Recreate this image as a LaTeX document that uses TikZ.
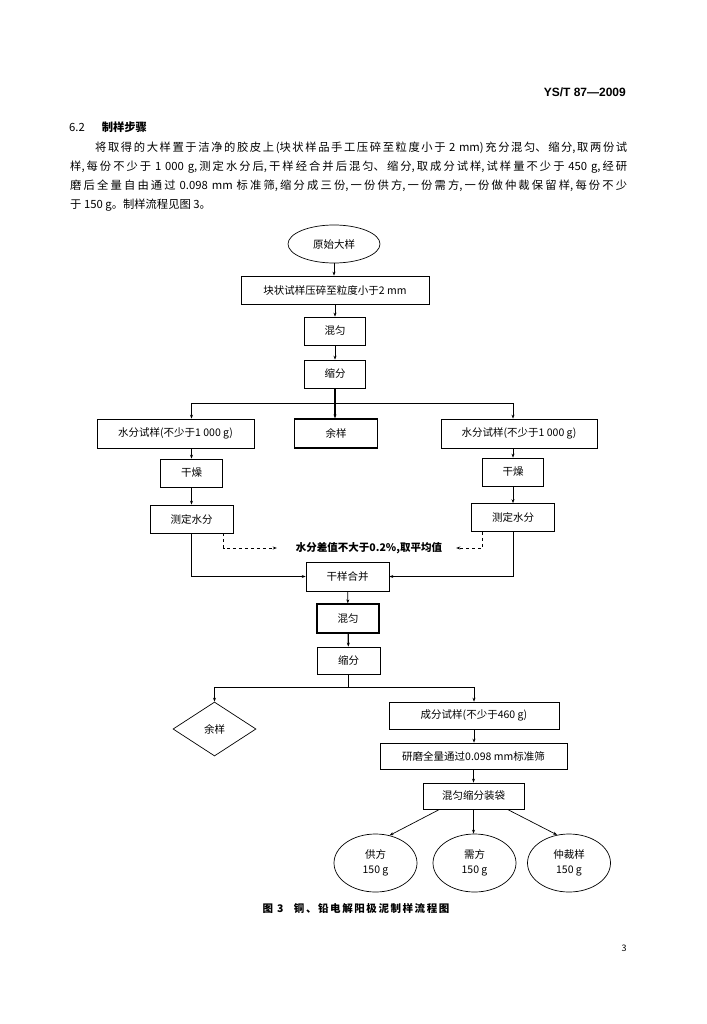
\documentclass[tikz,border=0pt]{standalone}
\usepackage{fontspec}
\setmainfont{Noto Sans CJK SC}
\newfontfamily\hdfont{Liberation Sans}
\newfontfamily\capfont[LetterSpace=15]{Noto Sans CJK SC}
\usetikzlibrary{shapes.geometric,arrows.meta}

\begin{document}
\begin{tikzpicture}[x=1pt,y=-1pt,
	box/.style={draw,line width=0.7pt,inner sep=1pt,minimum height=28pt,font=\fontsize{10.5}{12}\selectfont},
	boldbox/.style={box,line width=1.3pt},
	oval/.style={draw,ellipse,line width=0.7pt,inner sep=0pt,align=center,font=\fontsize{10.5}{15}\selectfont},
	flow/.style={line width=0.7pt,-{Stealth[length=4pt,width=3pt]}},
	link/.style={line width=0.7pt}]
	\fill[white] (0,0) rectangle (706,1024);
	\useasboundingbox (0,0) rectangle (706,1024);
	\node[anchor=base east,inner sep=0,font=\hdfont\bfseries\fontsize{12}{14}\selectfont] (code) at (626,97) {YS/T 87—2009};
	\node[anchor=base west,inner sep=0,font=\fontsize{11.3}{14}\selectfont] (sec) at (69,132) {6.2\hspace{1.5em}\textbf{制样步骤}};
	\node[anchor=base west,inner sep=0,text width=557pt,align=justify,font=\fontsize{11.3}{18.8}\selectfont] (para) at (70,152) {\XeTeXlinebreaklocale "zh"\XeTeXlinebreakskip=0pt plus 2pt\hspace*{25pt}将取得的大样置于洁净的胶皮上(块状样品手工压碎至粒度小于~2~mm)充分混匀、缩分,取两份试\linebreak 样,每份不少于~1~000~g,测定水分后,干样经合并后混匀、缩分,取成分试样,试样量不少于~450~g,经研\linebreak 磨后全量自由通过~0.098~mm~标准筛,缩分成三份,一份供方,一份需方,一份做仲裁保留样,每份不少\linebreak 于~150~g。制样流程见图~3。};
	\node[oval,minimum width=92pt,minimum height=38pt] (raw) at (334,244) {原始大样};
	\node[box,minimum width=188pt] (crush) at (335,290) {块状试样压碎至粒度小于2 mm};
	\node[box,minimum width=61pt] (mixa) at (335,331) {混匀};
	\node[box,minimum width=61pt] (diva) at (335,374) {缩分};
	\node[box,minimum width=157pt,minimum height=29pt] (wetl) at (175.5,433.5) {水分试样(不少于1 000 g)};
	\node[boldbox,minimum width=83pt,minimum height=29pt] (resta) at (336,433.5) {余样};
	\node[box,minimum width=156pt,minimum height=29pt] (wetr) at (519,433.5) {水分试样(不少于1 000 g)};
	\node[box,minimum width=62pt] (dryl) at (191.5,473) {干燥};
	\node[box,minimum width=83pt] (measl) at (191.5,519) {测定水分};
	\node[box,minimum width=61pt] (dryr) at (513,472) {干燥};
	\node[box,minimum width=83pt] (measr) at (513,517.5) {测定水分};
	\node[inner sep=0,font=\fontsize{10.5}{12}\selectfont\bfseries] (note) at (369,548) {水分差值不大于0.2\%,取平均值};
	\node[box,minimum width=83pt,minimum height=29pt] (merge) at (347.5,576.5) {干样合并};
	\node[boldbox,minimum width=62pt,minimum height=29pt] (mixb) at (348,618.5) {混匀};
	\node[box,minimum width=63pt,minimum height=27pt] (divb) at (348.5,660.5) {缩分};
	\node[draw,diamond,aspect=1.54,line width=0.7pt,inner sep=0pt,minimum width=83pt,minimum height=54pt,font=\fontsize{10.5}{12}\selectfont] (restb) at (214.5,729) {余样};
	\node[box,minimum width=170pt,minimum height=27pt] (comp) at (474,715.5) {成分试样(不少于460 g)};
	\node[box,minimum width=187pt,minimum height=26pt] (grind) at (473.5,756) {研磨全量通过0.098 mm标准筛};
	\node[box,minimum width=101pt,minimum height=26pt] (pack) at (473.5,796) {混匀缩分装袋};
	\node[oval,minimum width=83pt,minimum height=58pt] (supply) at (375.5,863) {供方\\150 g};
	\node[oval,minimum width=83pt,minimum height=58pt] (demand) at (474.5,863) {需方\\150 g};
	\node[oval,minimum width=83pt,minimum height=58pt] (arbit) at (569,863) {仲裁样\\150 g};
	\node[inner sep=0,font=\capfont\bfseries\fontsize{10.5}{12}\selectfont] (cap) at (356,909) {图 3\quad 铜、铅电解阳极泥制样流程图};
	\node[inner sep=0,font=\fontsize{9}{10}\selectfont] (page) at (624,948) {3};
	\coordinate (forka) at (335,403);
	\coordinate (forkb) at (348.5,687);
	\draw[flow] (raw.south) -- (raw.south |- crush.north);
	\draw[flow] (crush) -- (mixa);
	\draw[flow] (mixa) -- (diva);
	\draw[link] (dryl |- forka) -- (dryr |- forka);
	\draw[flow] (dryl |- forka) -- (dryl |- wetl.north);
	\draw[flow] (dryr |- forka) -- (dryr |- wetr.north);
	\draw[flow,line width=1.3pt] (diva.south) -- (diva.south |- resta.north);
	\draw[flow] (dryl |- wetl.south) -- (dryl.north);
	\draw[flow] (dryl) -- (measl);
	\draw[flow] (dryr |- wetr.south) -- (dryr.north);
	\draw[flow] (dryr) -- (measr);
	\draw[flow] (measl.south) |- (merge.west);
	\draw[flow] (measr.south) |- (merge.east);
	\draw[flow,dashed] ([xshift=32pt]measl.south) |- ([xshift=-19pt]note.west);
	\draw[flow,dashed] ([xshift=-30.5pt]measr.south) |- ([xshift=14pt]note.east);
	\draw[flow] (merge) -- (mixb);
	\draw[flow,line width=1.3pt] (mixb) -- (divb);
	\draw[link] (divb.south) -- (forkb);
	\draw[link] (restb |- forkb) -- (comp |- forkb);
	\draw[flow] (restb |- forkb) -- (restb.north);
	\draw[flow] (comp |- forkb) -- (comp.north);
	\draw[flow] (comp.south) -- (comp.south |- grind.north);
	\draw[flow] (grind) -- (pack);
	\draw[flow] ([xshift=17pt]pack.south west) -- (supply.63);
	\draw[flow] (pack.south) -- (pack.south |- demand.north);
	\draw[flow] ([xshift=-17pt]pack.south east) -- (arbit.113);
\end{tikzpicture}
\end{document}
